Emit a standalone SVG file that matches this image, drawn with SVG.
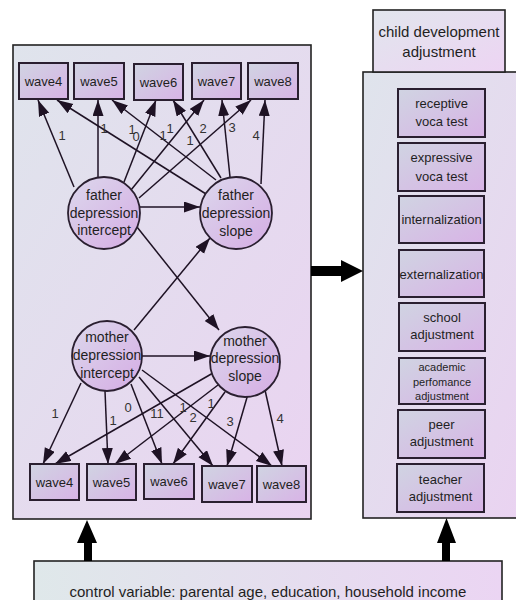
<svg xmlns="http://www.w3.org/2000/svg" width="516" height="600" viewBox="0 0 516 600">
<defs>
<linearGradient id="gPanel" x1="0" y1="0" x2="1" y2="1"><stop offset="0" stop-color="#dfe4ec"/><stop offset="1" stop-color="#ead3f1"/></linearGradient>
<linearGradient id="gBox" x1="0" y1="0" x2="1" y2="1"><stop offset="0" stop-color="#d0d4e2"/><stop offset="1" stop-color="#d8b3e6"/></linearGradient>
<linearGradient id="gCirc" x1="0" y1="0" x2="1" y2="1"><stop offset="0" stop-color="#dcd8ec"/><stop offset="1" stop-color="#d5ace4"/></linearGradient>
<linearGradient id="gTitle" x1="0" y1="0" x2="1" y2="1"><stop offset="0" stop-color="#e1e6ed"/><stop offset="1" stop-color="#edd4f3"/></linearGradient>
<linearGradient id="gCtrl" x1="0" y1="0" x2="1" y2="0"><stop offset="0" stop-color="#dfe8ea"/><stop offset="1" stop-color="#ebd5f3"/></linearGradient>
<marker id="ah" markerUnits="userSpaceOnUse" markerWidth="17" markerHeight="12" refX="16" refY="5.5" orient="auto"><path d="M0,0 L16,5.5 L0,11 z" fill="#1e1224"/></marker>
</defs>
<style>
.panel{fill:url(#gPanel);stroke:#222;stroke-width:1.6}
.box{fill:url(#gBox);stroke:#2a1f30;stroke-width:2}
.circ{fill:url(#gCirc);stroke:#2a1f30;stroke-width:1.8}
text{font-family:"Liberation Sans",Arial,sans-serif;fill:#1f1f1f;text-anchor:middle}
.t13{font-size:13px}
.t14{font-size:14px}
.t11{font-size:11px}
.lbl{font-size:13px;fill:#333}
.c line{stroke:#1e1224;stroke-width:1.5;marker-end:url(#ah)}
.thick{fill:#000}
</style>
<rect width="516" height="600" fill="#fff"/>

<g id="left-panel"><rect class="panel" x="13" y="45" width="298" height="474"/></g>
<g id="right-panel"><rect class="panel" x="363" y="72" width="160" height="446"/></g>
<g id="child-title"><rect x="373" y="10" width="132" height="62" fill="url(#gTitle)" stroke="#222" stroke-width="1.6"/><text x="439" y="37" style="font-size:15px">child development</text><text x="439" y="57" style="font-size:15px">adjustment</text></g>
<g id="control"><rect x="34" y="561" width="468" height="50" fill="url(#gCtrl)" stroke="#222" stroke-width="1.6"/><text x="268" y="597" style="font-size:15px">control variable: parental age, education, household income</text></g>

<g id="connectors" class="c">
<line x1="74" y1="187" x2="38" y2="100"/>
<line x1="98" y1="177" x2="98" y2="100"/>
<line x1="124" y1="182" x2="156" y2="100"/>
<line x1="131" y1="190" x2="204" y2="100"/>
<line x1="139" y1="198" x2="251" y2="100"/>
<line x1="206" y1="194" x2="57" y2="100"/>
<line x1="216" y1="180" x2="112" y2="100"/>
<line x1="221" y1="178" x2="173" y2="100"/>
<line x1="230" y1="177" x2="222" y2="100"/>
<line x1="261" y1="184" x2="265" y2="100"/>
<line x1="140" y1="207" x2="200" y2="207"/>
<line x1="137" y1="227" x2="219" y2="330"/>
<line x1="134" y1="330" x2="210" y2="238"/>
<line x1="81" y1="383" x2="43" y2="464"/>
<line x1="105" y1="391" x2="108" y2="464"/>
<line x1="131" y1="384" x2="162" y2="464"/>
<line x1="139" y1="377" x2="213" y2="466"/>
<line x1="142" y1="370" x2="272" y2="466"/>
<line x1="142" y1="356" x2="210" y2="356"/>
<line x1="213" y1="373" x2="55" y2="464"/>
<line x1="218" y1="385" x2="115" y2="464"/>
<line x1="225" y1="392" x2="173" y2="464"/>
<line x1="248" y1="394" x2="227" y2="466"/>
<line x1="265" y1="390" x2="282" y2="466"/>
<polygon class="thick" points="311,266 341,266 341,260 363,271 341,282 341,276 311,276"/>
<polygon class="thick" points="84,561 84,543 77,543 87,520 97,543 92,543 92,561"/>
<polygon class="thick" points="442,561 442,543 437,543 446.5,518 456,543 450,543 450,561"/>
</g>

<g id="path-labels">
<text class="lbl" x="62" y="140">1</text>
<text class="lbl" x="104" y="133">1</text>
<text class="lbl" x="132" y="134">1</text>
<text class="lbl" x="136" y="141">0</text>
<text class="lbl" x="163" y="140">1</text>
<text class="lbl" x="170" y="133">1</text>
<text class="lbl" x="190" y="145">1</text>
<text class="lbl" x="203" y="133">2</text>
<text class="lbl" x="232" y="132">3</text>
<text class="lbl" x="256" y="140">4</text>
<text class="lbl" x="55" y="418">1</text>
<text class="lbl" x="113" y="425">1</text>
<text class="lbl" x="128" y="412">0</text>
<text class="lbl" x="157" y="418">11</text>
<text class="lbl" x="183" y="412">1</text>
<text class="lbl" x="193" y="422">2</text>
<text class="lbl" x="211" y="408">1</text>
<text class="lbl" x="230" y="426">3</text>
<text class="lbl" x="280" y="423">4</text>
</g>

<g id="fw4"><rect class="box" x="19" y="63" width="49" height="36"/><text class="t13" x="43.5" y="86">wave4</text></g>
<g id="fw5"><rect class="box" x="74" y="63" width="50" height="36"/><text class="t13" x="99" y="86">wave5</text></g>
<g id="fw6"><rect class="box" x="134" y="64" width="49" height="36"/><text class="t13" x="158.5" y="87">wave6</text></g>
<g id="fw7"><rect class="box" x="192" y="63" width="49" height="36"/><text class="t13" x="216.5" y="86">wave7</text></g>
<g id="fw8"><rect class="box" x="248" y="63" width="50" height="36"/><text class="t13" x="273" y="86">wave8</text></g>

<g id="father-intercept"><circle class="circ" cx="104" cy="213" r="36"/><text class="t14" x="104" y="200">father</text><text class="t14" x="104" y="218">depression</text><text class="t14" x="104" y="235">intercept</text></g>
<g id="father-slope"><circle class="circ" cx="236" cy="213" r="36"/><text class="t14" x="236" y="200">father</text><text class="t14" x="236" y="218">depression</text><text class="t14" x="236" y="236">slope</text></g>
<g id="mother-intercept"><circle class="circ" cx="107" cy="356" r="35"/><text class="t14" x="107" y="342">mother</text><text class="t14" x="107" y="360">depression</text><text class="t14" x="107" y="378">intercept</text></g>
<g id="mother-slope"><circle class="circ" cx="245" cy="362" r="35"/><text class="t14" x="245" y="346">mother</text><text class="t14" x="245" y="363">depression</text><text class="t14" x="245" y="381">slope</text></g>

<g id="mw4"><rect class="box" x="30" y="464" width="49" height="36"/><text class="t13" x="54.5" y="487">wave4</text></g>
<g id="mw5"><rect class="box" x="87" y="464" width="49" height="36"/><text class="t13" x="111.5" y="487">wave5</text></g>
<g id="mw6"><rect class="box" x="144" y="464" width="50" height="35"/><text class="t13" x="169" y="486">wave6</text></g>
<g id="mw7"><rect class="box" x="202" y="466" width="50" height="36"/><text class="t13" x="227" y="489">wave7</text></g>
<g id="mw8"><rect class="box" x="257" y="466" width="49" height="36"/><text class="t13" x="281.5" y="489">wave8</text></g>

<g id="receptive"><rect class="box" x="398" y="89" width="87" height="48"/><text class="t13" x="441.5" y="108">receptive</text><text class="t13" x="441.5" y="126">voca test</text></g>
<g id="expressive"><rect class="box" x="398" y="143" width="87" height="48"/><text class="t13" x="441.5" y="162">expressive</text><text class="t13" x="441.5" y="181">voca test</text></g>
<g id="internalization"><rect class="box" x="399" y="196" width="85" height="47"/><text class="t13" x="441.5" y="224">internalization</text></g>
<g id="externalization"><rect class="box" x="399" y="250" width="85" height="47"/><text class="t13" x="441.5" y="279">externalization</text></g>
<g id="school"><rect class="box" x="399" y="303" width="86" height="48"/><text class="t13" x="442" y="322">school</text><text class="t13" x="442" y="339">adjustment</text></g>
<g id="academic"><rect class="box" x="399" y="358" width="86" height="46"/><text class="t11" x="442" y="371">academic</text><text class="t11" x="442" y="386">perfomance</text><text class="t11" x="442" y="400">adjustment</text></g>
<g id="peer"><rect class="box" x="398" y="410" width="87" height="48"/><text class="t13" x="441.5" y="429">peer</text><text class="t13" x="441.5" y="446">adjustment</text></g>
<g id="teacher"><rect class="box" x="397" y="464" width="87" height="48"/><text class="t13" x="440.5" y="484">teacher</text><text class="t13" x="440.5" y="501">adjustment</text></g>
</svg>
